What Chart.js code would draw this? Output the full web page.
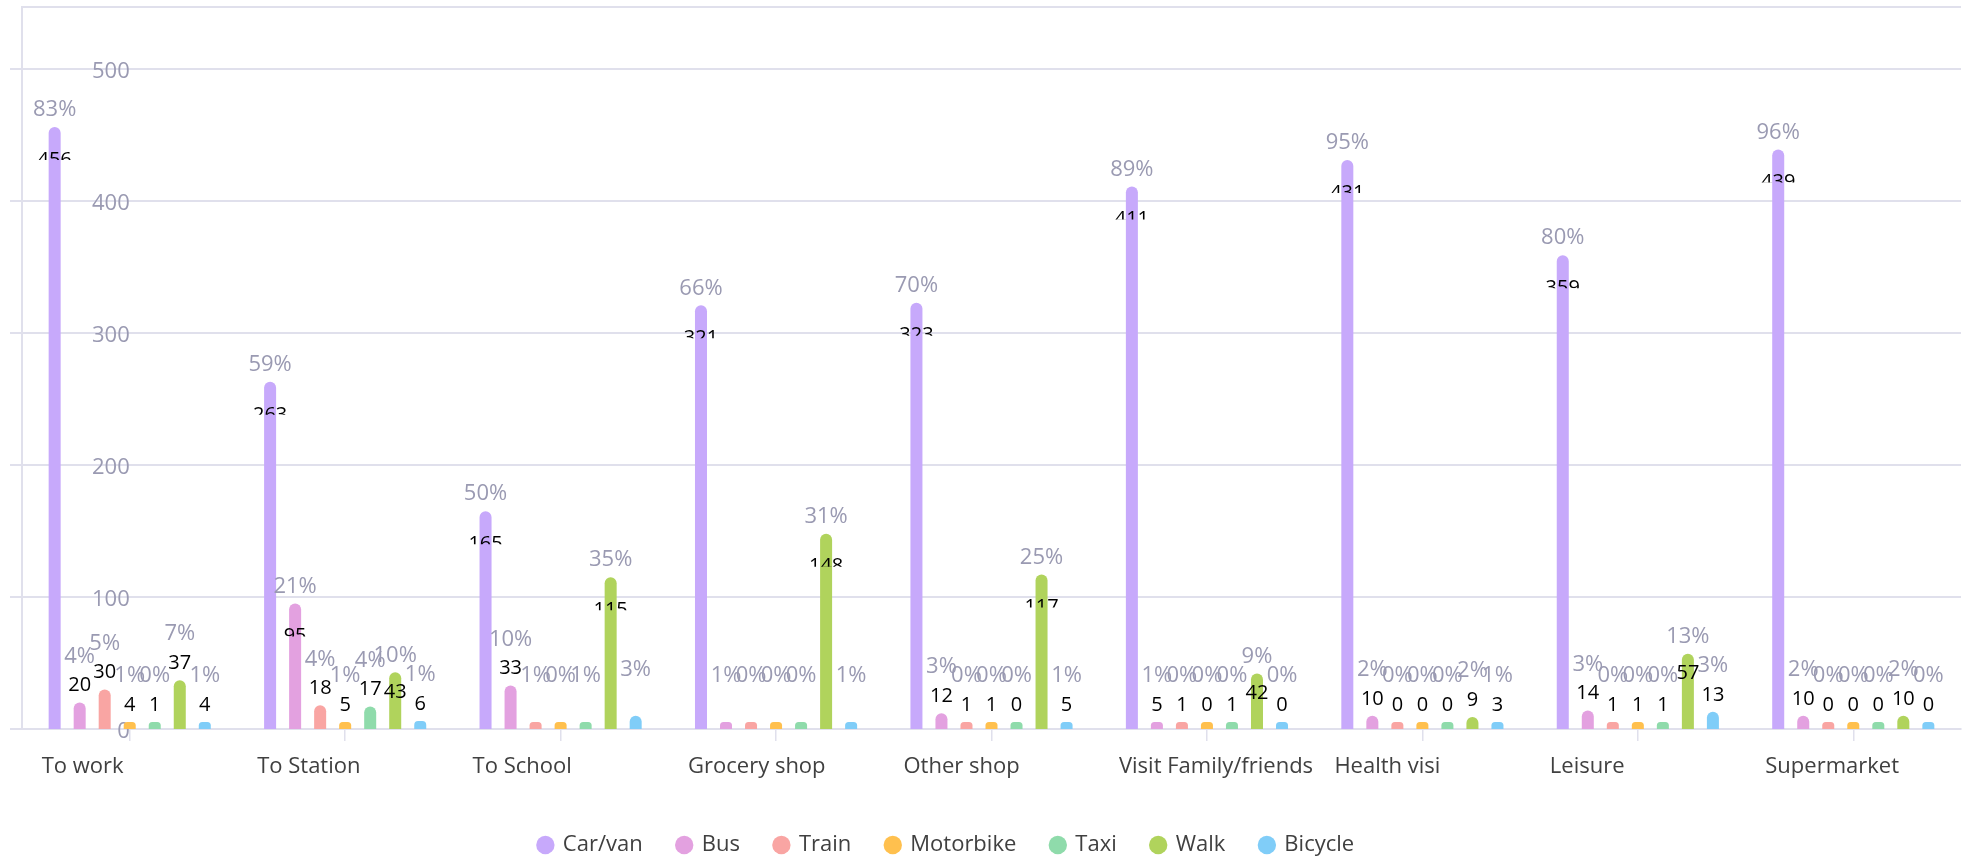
<!DOCTYPE html>
<html>
<head>
<meta charset="utf-8">
<script src="https://cdn.jsdelivr.net/npm/chart.js@4"></script>
<style>
html, body { margin: 0; padding: 0; background: #fff; }
#caixa { width: 1966px; height: 861px; }
</style>
</head>
<body>
<div id="caixa"><canvas id="grafico"></canvas></div>
<script>
const categorias = ['To work', 'To Station', 'To School', 'Grocery shop', 'Other shop', 'Visit Family/friends', 'Health visi', 'Leisure', 'Supermarket'];
const carVan    = [456, 263, 165, 321, 323, 411, 431, 359, 439];
const bus       = [20, 95, 33, 5, 12, 5, 10, 14, 10];
const train     = [30, 18, 3, 2, 1, 1, 0, 1, 0];
const motorbike = [4, 5, 1, 1, 1, 0, 0, 1, 0];
const taxi      = [1, 17, 2, 1, 0, 1, 0, 1, 0];
const walk      = [37, 43, 115, 148, 117, 42, 9, 57, 10];
const bicycle   = [4, 6, 10, 5, 5, 0, 3, 13, 0];
const ticksY = [0, 100, 200, 300, 400, 500];
const yMax = 547;
// rótulos de valor que não aparecem no original: [categoria, série]
const semRotulo = [[2, 2], [2, 3], [2, 4], [2, 6], [3, 1], [3, 2], [3, 3], [3, 4], [3, 6]];

const series = [
    { nome: 'Car/van', dados: carVan, cor: '#c7a9fb' },
    { nome: 'Bus', dados: bus, cor: '#e3a1e0' },
    { nome: 'Train', dados: train, cor: '#f9a5a3' },
    { nome: 'Motorbike', dados: motorbike, cor: '#ffc04e' },
    { nome: 'Taxi', dados: taxi, cor: '#8fdbab' },
    { nome: 'Walk', dados: walk, cor: '#b0d35c' },
    { nome: 'Bicycle', dados: bicycle, cor: '#80cdf8' }
];

// totais por categoria para os percentuais
const totais = categorias.map((c, i) => series.reduce((s, sr) => s + sr.dados[i], 0));

const corGrade = '#e0e0ec';
const corCinza = '#9a9ab2';

const rotulos = {
    id: 'rotulos',
    afterLayout(chart) {
        // a legenda do original fica um pouco à esquerda do centro
        chart.legend.left -= 34;
        chart.legend.right -= 34;
    },
    afterDatasetsDraw(chart) {
        const ctx = chart.ctx;
        ctx.save();
        ctx.textAlign = 'center';
        ctx.textBaseline = 'middle';
        chart.data.datasets.forEach((ds, s) => {
            chart.getDatasetMeta(s).data.forEach((bar, c) => {
                const v = ds.data[c];
                const pct = Math.round(v / totais[c] * 100) + '%';
                const topo = bar.y;
                const x = bar.x;
                let yPct;
                ctx.font = '20px "Open Sans"';
                ctx.fillStyle = '#000';
                if (v >= 40) {
                    yPct = topo - 17;
                    if (v >= 90) {
                        // valor cortado pela metade, como no original
                        ctx.save();
                        ctx.beginPath();
                        ctx.rect(x - 40, topo, 80, 33);
                        ctx.clip();
                        ctx.fillText(v, x, topo + 33);
                        ctx.restore();
                    } else {
                        ctx.fillText(v, x, topo + 20);
                    }
                } else {
                    const oculto = semRotulo.some(p => p[0] === c && p[1] === s);
                    if (!oculto) ctx.fillText(v, x, topo - 17);
                    yPct = topo - 46;
                }
                ctx.font = '22px "Open Sans"';
                ctx.fillStyle = corCinza;
                ctx.fillText(pct, x, yPct);
            });
        });
        ctx.restore();
    }
};

new Chart(document.getElementById('grafico'), {
    type: 'bar',
    data: {
        labels: categorias,
        datasets: series.map(sr => ({
            label: sr.nome,
            data: sr.dados,
            backgroundColor: sr.cor,
            borderWidth: 0,
            borderRadius: 6,
            minBarLength: 7,
            base: -0.0001,
            categoryPercentage: 0.813,
            barPercentage: 0.48
        }))
    },
    options: {
        responsive: true,
        maintainAspectRatio: false,
        animation: false,
        layout: { padding: { top: 7, right: 5, bottom: -5, left: 0 } },
        plugins: {
            tooltip: { enabled: false },
            legend: {
                position: 'bottom',
                labels: {
                    usePointStyle: true,
                    pointStyle: 'circle',
                    boxWidth: 13,
                    boxHeight: 13,
                    padding: 35,
                    color: '#404040',
                    font: { family: 'Open Sans', size: 22 }
                }
            }
        },
        scales: {
            x: {
                offset: true,
                grid: { display: true, drawOnChartArea: false, drawTicks: true, tickLength: 12, offset: false, tickColor: corGrade, lineWidth: 1.5 },
                border: { color: corGrade, width: 2 },
                ticks: {
                    autoSkip: false, maxRotation: 0, minRotation: 0,
                    align: 'start', labelOffset: -88, padding: 13,
                    color: '#404040',
                    font: { family: 'Open Sans', size: 22 }
                },
                afterFit(scale) {
                    scale.height = 70;
                    scale.paddingLeft = 0; scale.paddingRight = 0;
                }
            },
            y: {
                min: 0,
                max: yMax,
                afterBuildTicks(scale) {
                    scale.ticks = ticksY.map(v => ({ value: v })).concat([{ value: yMax }]);
                },
                grid: {
                    color: corGrade, lineWidth: 2, tickLength: 12,
                    tickColor: c => (c.tick && c.tick.value === yMax) ? 'rgba(0,0,0,0)' : corGrade
                },
                border: { color: corGrade, width: 2 },
                ticks: {
                    mirror: true,
                    crossAlign: 'far',
                    padding: 70,
                    labelOffset: 3,
                    color: corCinza,
                    font: { family: 'Open Sans', size: 22 },
                    callback: v => ticksY.includes(v) ? v : ''
                },
                afterFit(scale) {
                    scale.width = 22;
                    scale.paddingTop = 0; scale.paddingBottom = 0;
                }
            }
        }
    },
    plugins: [rotulos]
});
</script>
</body>
</html>
